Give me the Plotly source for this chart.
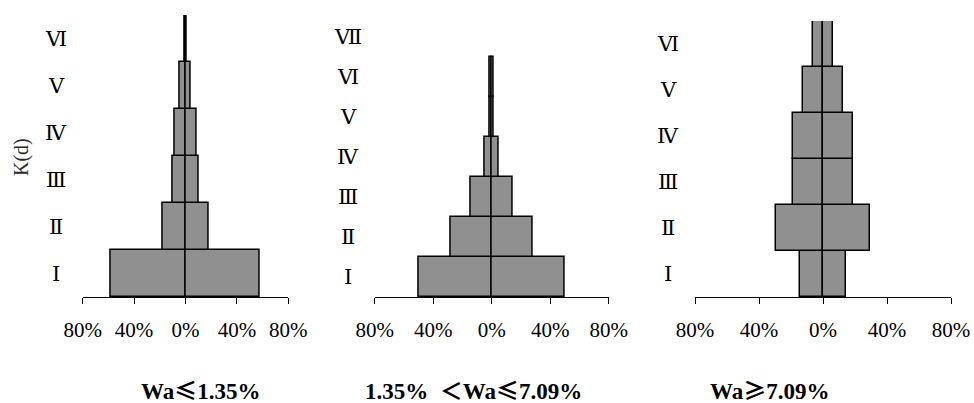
import plotly.graph_objects as go

# Share (%) of each K(d) grade within three Wa classes; drawn mirrored about 0.
levels_6 = ["Ⅰ", "Ⅱ", "Ⅲ", "Ⅳ", "Ⅴ", "Ⅵ"]
levels_7 = ["Ⅰ", "Ⅱ", "Ⅲ", "Ⅳ", "Ⅴ", "Ⅵ", "Ⅶ"]

share_low = [58.0, 18.0, 10.3, 8.5, 4.4, 0.8]
share_mid = [50.0, 28.0, 14.2, 5.0, 1.5, 1.3, 0.0]
share_high = [14.1, 29.2, 18.9, 18.9, 12.6, 6.3]

panel_titles = ["Wa≤1.35%", "1.35%  ＜Wa≤7.09%", "Wa≥7.09%"]
tick_vals = [-80, -40, 0, 40, 80]
tick_text = ["80%", "40%", "0%", "40%", "80%"]
y_title = "K(d)"

W, H = 974, 403
SERIF = "Liberation Serif"
NUMERAL_FONT = "DejaVu Serif"
CJK = "Noto Sans CJK SC"


def wide_symbols(s):
    """Set the relation signs in a CJK face so they get full-width glyphs."""
    for ch in "≤≥＜":
        s = s.replace(ch, f'<span style="font-family:{CJK}">{ch}</span>')
    return s


panels = [
    dict(levels=levels_6, share=share_low, x0=82.7, x1=288.3, top=15, title_x=200, label_x=56),
    dict(levels=levels_7, share=share_mid, x0=374.7, x1=608.7, top=17, title_x=473, label_x=348),
    dict(levels=levels_6, share=share_high, x0=695, x1=951, top=21, title_x=769, label_x=668),
]
bottom = 297

fig = go.Figure()
pattern = dict(shape=".", size=2, solidity=0.5, fgcolor="#dedede", bgcolor="#7a7a7a")

annotations = []
for i, p in enumerate(panels, start=1):
    xa = "x" if i == 1 else f"x{i}"
    ya = "y" if i == 1 else f"y{i}"
    lw = [1.5 if v > 0 else 0 for v in p["share"]]
    for sign in (-1, 1):
        fig.add_trace(go.Bar(
            y=p["levels"], x=[sign * v for v in p["share"]], orientation="h",
            xaxis=xa, yaxis=ya, showlegend=False, hoverinfo="skip",
            marker=dict(color="#8c8c8c", pattern=pattern,
                        line=dict(color="black", width=lw)),
        ))
    key = "" if i == 1 else str(i)
    fig.update_layout(**{
        f"xaxis{key}": dict(
            domain=[p["x0"] / W, p["x1"] / W], range=[-80, 80], anchor=ya,
            tickvals=tick_vals, ticktext=tick_text, ticks="outside", ticklen=6,
            tickwidth=1, tickcolor="black", showline=True, linecolor="black",
            linewidth=1, showgrid=False, zeroline=False, ticklabelstandoff=8,
            tickfont=dict(family=SERIF, size=21, color="black"),
            fixedrange=True, automargin=False,
        ),
        f"yaxis{key}": dict(
            domain=[1 - bottom / H, 1 - p["top"] / H], anchor=xa,
            type="category", categoryorder="array", categoryarray=p["levels"],
            range=[-0.5, len(p["levels"]) - 0.5], showticklabels=False,
            showline=False, showgrid=False, zeroline=False, ticks="",
            automargin=False,
        ),
    })
    for lv in p["levels"]:
        annotations.append(dict(
            x=p["label_x"] / W, xref="paper", y=lv, yref=ya, text=lv,
            showarrow=False, xanchor="center", yanchor="middle",
            font=dict(family=NUMERAL_FONT, size=21, color="black"),
        ))
    annotations.append(dict(
        x=p["title_x"] / W, xref="paper", y=1 - 389 / H, yref="paper",
        text=f"<b>{wide_symbols(panel_titles[i - 1])}</b>", showarrow=False,
        xanchor="center", yanchor="middle",
        font=dict(family=SERIF, size=23, color="black"),
    ))

annotations.append(dict(
    x=21 / W, xref="paper", y=1 - 157 / H, yref="paper", text=y_title,
    textangle=-90, showarrow=False, xanchor="center", yanchor="middle",
    font=dict(family=SERIF, size=20, color="#2a2a2a"),
))

fig.update_layout(
    width=W, height=H, margin=dict(l=0, r=0, t=0, b=0, autoexpand=False),
    paper_bgcolor="white", plot_bgcolor="white",
    barmode="relative", bargap=0, annotations=annotations,
)

fig.write_html("out.html")
